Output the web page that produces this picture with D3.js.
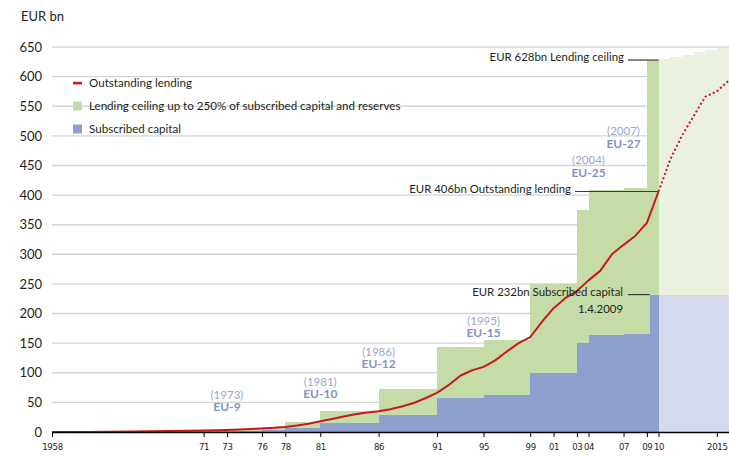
<!DOCTYPE html>
<html>
<head>
<meta charset="utf-8">
<script src="https://cdn.jsdelivr.net/npm/d3@7"></script>
<style>
  html, body { margin: 0; padding: 0; background: #fff; }
  svg { display: block; font-family: Lato, "Noto Sans", sans-serif; }
</style>
</head>
<body>
<svg id="chart" width="729" height="456"></svg>
<script>
// ---- Data (EUR bn) ----
// Subscribed capital, in force from each date
const capitalDates  = ["1958-01-01","1971-01-01","1973-01-01","1976-01-01","1978-01-01","1981-01-01","1986-01-01",
                       "1991-01-01","1995-01-01","1999-01-01","2003-01-01","2004-01-01","2007-01-01","2009-04-01"];
const capitalValues = [1, 1.5, 2.0, 3.5, 7.1, 14.4, 28.8, 57.6, 62, 100, 150, 163.6, 164.8, 232];

// Lending ceiling (250% of subscribed capital and reserves), in force from each date
const ceilingDates  = ["1958-01-01","1971-01-01","1973-01-01","1976-01-01","1978-01-01","1981-01-01","1986-01-01",
                       "1991-01-01","1995-01-01","1999-01-01","2003-01-01","2004-01-01","2007-01-01","2009-01-01"];
const ceilingValues = [2.5, 3.75, 5.1, 8.9, 17.7, 36, 72, 144, 155, 250, 375, 409, 412, 628];

// Outlook period
const outlookStart = "2010-01-01";
const axisEnd = "2016-01-01";
const outlookCeilingDates  = ["2010-01-01","2011-01-01","2012-01-01","2013-01-01","2014-01-01","2015-01-01"];
const outlookCeilingValues = [630, 633, 637, 641, 645, 649];
const outlookCapital = 232;

// Outstanding lending
const lendingYears  = [1958,1961,1965,1968,1971,1973,1975,1976,1977,1978,1979,1980,1981,1982,1983,1984,1985,1986,1987,1988,
                       1989,1990,1991,1992,1993,1994,1995,1996,1997,1998,1999,2000,2001,2002,2003,2004,2005,2006,2007,2008,2009,2010];
const lendingValues = [0,0.2,0.8,1.5,2.5,3.5,5,6,7,8.5,11,14,18,22,26,30,33,35,38.5,43,
                       49,57,66,79,95,104,110,121,136,150,160,186,209,226,238,256,272,300,316,331,353,406];
const outlookLendingYears  = [2010, 2011, 2012, 2013, 2014, 2015, 2016];
const outlookLendingValues = [406, 460, 500, 533, 566, 575, 593];

// Axes
const yTicks = [0,50,100,150,200,250,300,350,400,450,500,550,600,650];
const xTickYears  = [1958,1971,1973,1976,1978,1981,1986,1991,1995,1999,2001,2003,2004,2007,2009,2010,2015];
const xTickLabels = ["1958","71","73","76","78","81","86","91","95","99","01","03","04","07","09","10","2015"];

// Enlargements
const enlargementYears = [1973, 1981, 1986, 1995, 2004, 2007];
const enlargementNames = ["EU-9", "EU-10", "EU-12", "EU-15", "EU-25", "EU-27"];

const legendLabels = ["Outstanding lending",
                      "Lending ceiling up to 250% of subscribed capital and reserves",
                      "Subscribed capital"];

// ---- Layout ----
const W = 729, H = 456;
const svg = d3.select("#chart");
const parse = d3.utcParse("%Y-%m-%d");
const yr = y => new Date(Date.UTC(y, 0, 1));

const x = d3.scaleUtc().domain([parse("1958-01-01"), parse(axisEnd)]).range([52, 728.5]);
const y = d3.scaleLinear().domain([0, 650]).range([432, 47]);

const C = {
  green: "#c6dca8", blue: "#8c9fcd",
  lightGreen: "#eaf1de", lightBlue: "#d5daed",
  red: "#c8171f", grid: "#d4d4d4", text: "#231f20",
  enlYear: "#98a8d4", enlName: "#7f93c8"
};

// Gridlines
svg.append("g").selectAll("line").data(yTicks.filter(d => d > 0)).join("line")
  .attr("x1", 52).attr("x2", W).attr("y1", d => y(d)).attr("y2", d => y(d))
  .attr("stroke", C.grid).attr("stroke-width", 1.4);

// Step areas
function steps(dates, values, end) {
  return dates.map((d, i) => ({
    x0: parse(d), x1: parse(i < dates.length - 1 ? dates[i + 1] : end), v: values[i]
  }));
}
const areas = svg.append("g");
function drawSteps(data, fill) {
  areas.append("g").selectAll("rect").data(data).join("rect")
    .attr("x", d => x(d.x0)).attr("width", d => x(d.x1) - x(d.x0))
    .attr("y", d => y(d.v)).attr("height", d => y(0) - y(d.v))
    .attr("fill", fill).attr("shape-rendering", "crispEdges");
}
drawSteps(steps(ceilingDates, ceilingValues, outlookStart), C.green);
drawSteps(steps(outlookCeilingDates, outlookCeilingValues, axisEnd), C.lightGreen);
drawSteps(steps(capitalDates, capitalValues, outlookStart), C.blue);
drawSteps([{ x0: parse(outlookStart), x1: parse(axisEnd), v: outlookCapital }], C.lightBlue);

// Outstanding lending line
const line = d3.line().x(d => x(yr(d[0]))).y(d => y(d[1])).curve(d3.curveLinear);
svg.append("path")
  .datum(lendingYears.map((d, i) => [d, lendingValues[i]]))
  .attr("d", line).attr("fill", "none").attr("stroke", C.red)
  .attr("stroke-width", 2).attr("stroke-linejoin", "round");
svg.append("path")
  .datum(outlookLendingYears.map((d, i) => [d, outlookLendingValues[i]]))
  .attr("d", line).attr("fill", "none").attr("stroke", C.red)
  .attr("stroke-width", 2).attr("stroke-dasharray", "2,2.4");

// X axis
const xAxis = d3.axisBottom(x)
  .tickValues(xTickYears.map(yr))
  .tickFormat((d, i) => xTickLabels[i])
  .tickSize(5).tickSizeOuter(0);
const gx = svg.append("g").attr("transform", `translate(0,${y(0)})`).call(xAxis);
gx.select(".domain").attr("stroke", "#000").attr("stroke-width", 1.3);
gx.selectAll(".tick line").attr("stroke", "#000").attr("stroke-width", 1);
gx.selectAll(".tick text")
  .attr("font-family", "'Liberation Sans Narrow', 'DejaVu Sans Condensed', sans-serif")
  .attr("font-size", 9.5).attr("letter-spacing", -0.3).attr("fill", C.text).attr("dy", "1em");

// Y axis labels
const yAxis = d3.axisLeft(y).tickValues(yTicks).tickSize(0).tickPadding(0);
const gy = svg.append("g").attr("transform", "translate(42,0)").call(yAxis);
gy.select(".domain").remove();
gy.selectAll(".tick text").attr("font-size", 13).attr("fill", C.text).attr("font-family", "Lato, sans-serif");

svg.append("text").attr("x", 21).attr("y", 21).attr("font-size", 13).attr("fill", C.text).text("EUR bn");

// Legend
const legend = svg.append("g").attr("transform", "translate(73,83)");
legendLabels.forEach((label, i) => {
  const g = legend.append("g").attr("transform", `translate(0,${i * 23})`);
  if (i === 0) {
    g.append("rect").attr("x", 0).attr("y", -1.2).attr("width", 9).attr("height", 2.6).attr("fill", C.red);
  } else {
    g.append("rect").attr("x", 0).attr("y", -4.5).attr("width", 9).attr("height", 9)
      .attr("fill", i === 1 ? C.green : C.blue);
  }
  g.append("text").attr("x", 16).attr("dy", "0.36em").attr("font-size", 11.6)
    .attr("fill", C.text).text(label);
});

// Enlargement labels: bold name centred over the accession year, year in brackets above
const enlargementLevel = [42, 64, 115, 167, 438, 487];
const enl = svg.append("g").attr("text-anchor", "middle");
enlargementYears.forEach((yy, i) => {
  const cx = x(yr(yy)), cy = y(enlargementLevel[i]);
  enl.append("text").attr("x", cx).attr("y", cy - 12.5).attr("dy", "0.36em")
    .attr("font-size", 11.5).attr("fill", C.enlYear).text(`(${yy})`);
  enl.append("text").attr("x", cx).attr("y", cy).attr("dy", "0.36em")
    .attr("font-size", 12).attr("font-weight", "bold").attr("fill", C.enlName).text(enlargementNames[i]);
});

// Callouts for the 2009 figures
const ceiling2009 = ceilingValues[ceilingValues.length - 1];
const lending2009 = lendingValues[lendingValues.length - 1];
const capital2009 = capitalValues[capitalValues.length - 1];
const xEnd = x(parse(outlookStart));
const xCap = x(parse(capitalDates[capitalDates.length - 1]));
const callouts = [
  { text: `EUR ${ceiling2009}bn Lending ceiling`, v: ceiling2009, tx: 624, lx0: 628, lx1: xEnd },
  { text: `EUR ${lending2009}bn Outstanding lending`, v: lending2009, tx: 571, lx0: 575, lx1: xEnd },
  { text: `EUR ${capital2009}bn Subscribed capital`, v: capital2009, tx: 623, lx0: 628, lx1: xCap }
];
const co = svg.append("g");
callouts.forEach(c => {
  co.append("line").attr("x1", c.lx0).attr("x2", c.lx1).attr("y1", y(c.v)).attr("y2", y(c.v))
    .attr("stroke", "#3a3a3a").attr("stroke-width", 1.2);
  co.append("text").attr("x", c.tx).attr("y", y(c.v) - 3).attr("dy", "0.36em")
    .attr("text-anchor", "end").attr("font-size", 11.4).attr("fill", C.text).text(c.text);
});
co.append("text").attr("x", 623).attr("y", y(capital2009) + 14).attr("dy", "0.36em")
  .attr("text-anchor", "end").attr("font-size", 11.4).attr("fill", C.text).text("1.4.2009");
</script>
</body>
</html>
